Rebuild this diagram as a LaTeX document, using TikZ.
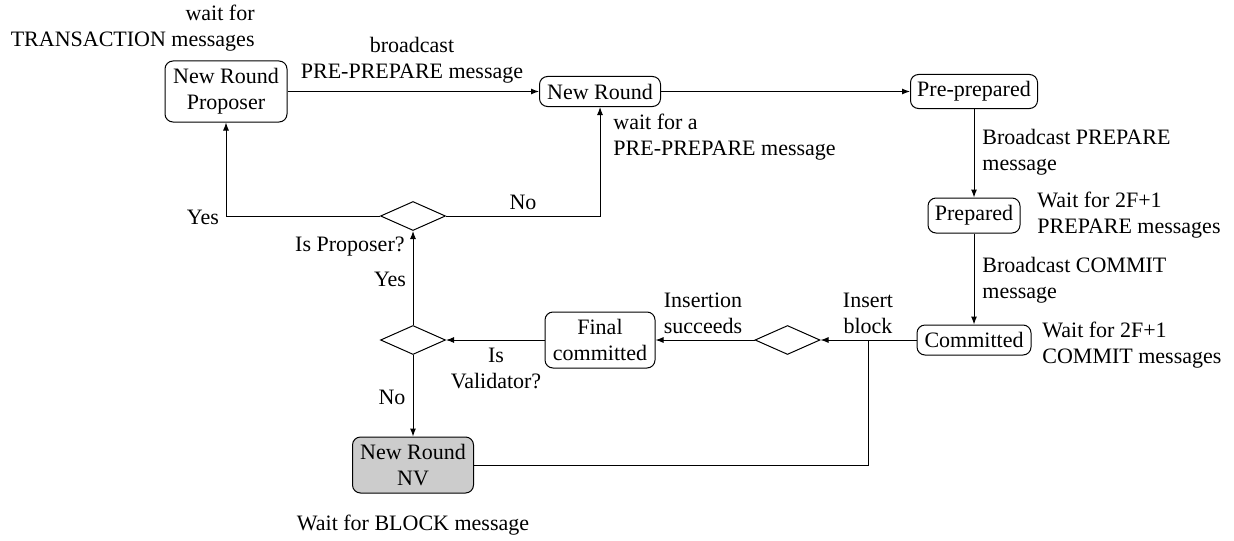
\documentclass[tikz,border=0pt]{standalone}
\usepackage{fontspec}
\setmainfont{LiberationSerif}[Extension=.ttf,UprightFont=*-Regular,BoldFont=*-Bold,ItalicFont=*-Italic,BoldItalicFont=*-BoldItalic]
\usetikzlibrary{shapes.geometric,arrows.meta}
\begin{document}
\begin{tikzpicture}[x=0.5pt,y=-0.5pt,font=\rmfamily\fontsize{11pt}{13pt}\selectfont,
  state/.style={draw,rounded corners=4pt,align=center,inner sep=1pt,line width=0.5pt},
  dec/.style={draw,shape=diamond,minimum width=32.5pt,minimum height=14.5pt,inner sep=0pt,line width=0.5pt},
  lbl/.style={inner sep=0pt},
  arr/.style={-{Latex[length=4pt,width=3pt]},line width=0.5pt},
  ln/.style={line width=0.5pt}]
\useasboundingbox (0,0) rectangle (1234,540);
% states
\node[state,minimum width=61pt,minimum height=30.5pt] (prop) at (226,91.5) {New Round\\Proposer};
\node[state,minimum width=60.5pt,minimum height=15pt] (nr) at (600,91.5) {New Round};
\node[state,minimum width=63.5pt,minimum height=17pt] (pp) at (974,91.5) {Pre-prepared};
\node[state,minimum width=46pt,minimum height=17.5pt] (pd) at (974,215.5) {Prepared};
\node[state,minimum width=57pt,minimum height=15pt] (cm) at (974,340) {Committed};
\node[state,minimum width=55pt,minimum height=28pt] (fc) at (600,340) {Final\\committed};
\node[state,fill=black!20,minimum width=60.5pt,minimum height=28pt] (nv) at (413,465) {New Round\\NV};
% decisions
\node[dec] (d1) at (413,216) {};
\node[dec] (d2) at (787.5,340) {};
\node[dec] (d3) at (413,340) {};
% helper coordinates
\coordinate (c1) at (226,216);
\coordinate (c2) at (600,216);
\coordinate (c3) at (868,340);
\coordinate (c4) at (868,465);
% connectors
\draw[arr] (prop) -- (nr);
\draw[arr] (nr) -- (pp);
\draw[arr] (pp) -- (pd);
\draw[arr] (pd) -- (cm);
\draw[arr] (cm) -- (d2);
\draw[arr] (d2) -- (fc);
\draw[arr] (fc) -- (d3);
\draw[arr] (d3) -- (d1);
\draw[arr] (d3) -- (nv);
\draw[arr] (d1.west) -- (c1) -- (prop.south);
\draw[arr] (d1.east) -- (c2) -- (nr.south);
\draw[ln] (nv.east) -- (c4) -- (c3);
% labels
\node[lbl,anchor=east,align=right] (t1) at (255,28) {wait for\\TRANSACTION messages};
\node[lbl,align=center] (t2) at (412,60) {broadcast\\PRE-PREPARE message};
\node[lbl,anchor=west,align=left] (t3) at (613,137) {wait for a\\PRE-PREPARE message};
\node[lbl,anchor=west,align=left] (t4) at (982,152) {Broadcast PREPARE\\message};
\node[lbl,anchor=west,align=left] (t5) at (1037,215) {Wait for 2F+1\\PREPARE messages};
\node[lbl,anchor=west,align=left] (t6) at (982,280) {Broadcast COMMIT\\message};
\node[lbl,anchor=west,align=left] (t7) at (1042,345) {Wait for 2F+1\\COMMIT messages};
\node[lbl,align=center] (t8) at (868,313) {Insert\\block};
\node[lbl,align=center] (t9) at (703,313) {Insertion\\succeeds};
\node[lbl,align=center] (t10) at (496,368) {Is\\Validator?};
\node[lbl,anchor=east] (t11) at (405,247) {Is Proposer?};
\node[lbl] (t12) at (390,279) {Yes};
\node[lbl] (t13) at (203,217) {Yes};
\node[lbl] (t14) at (523,202) {No};
\node[lbl] (t15) at (392,397) {No};
\node[lbl] (t16) at (413,525) {Wait for BLOCK message};
\end{tikzpicture}
\end{document}
